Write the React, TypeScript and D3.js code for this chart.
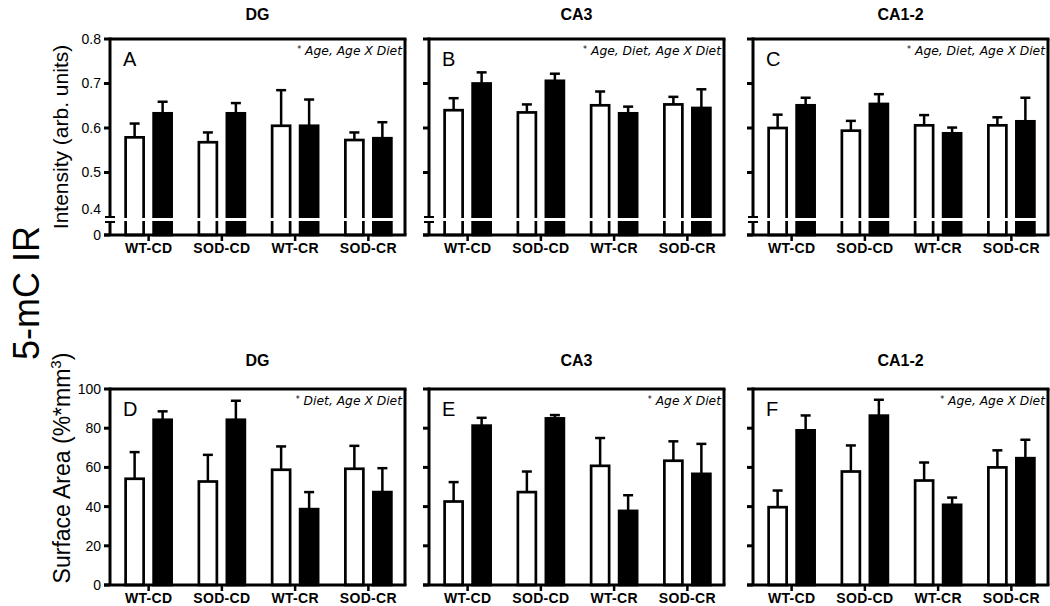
import React from "react";
import * as d3 from "d3";

// ---------- data ----------
const categories = ["WT-CD", "SOD-CD", "WT-CR", "SOD-CR"];
const regions = ["DG", "CA3", "CA1-2"];
const intensityLetters = ["A", "B", "C"];
const areaLetters = ["D", "E", "F"];
const intensityNotes = ["Age, Age X Diet", "Age, Diet, Age X Diet", "Age, Diet, Age X Diet"];
const areaNotes = ["Diet, Age X Diet", "Age X Diet", "Age, Age X Diet"];

const intensityTickValues = [0.5, 0.6, 0.7, 0.8];
const intensityTickLabels = ["0.5", "0.6", "0.7", "0.8"];
const areaTickValues = [0, 20, 40, 60, 80, 100];

// Intensity (arb. units) – open bars / filled bars, mean and SEM
const dgIntensityOpen = [0.579, 0.568, 0.605, 0.573];
const dgIntensityOpenSem = [0.031, 0.022, 0.08, 0.017];
const dgIntensityFilled = [0.633, 0.633, 0.605, 0.577];
const dgIntensityFilledSem = [0.026, 0.023, 0.059, 0.036];

const ca3IntensityOpen = [0.64, 0.635, 0.651, 0.653];
const ca3IntensityOpenSem = [0.027, 0.018, 0.031, 0.017];
const ca3IntensityFilled = [0.7, 0.706, 0.633, 0.645];
const ca3IntensityFilledSem = [0.025, 0.016, 0.015, 0.042];

const ca12IntensityOpen = [0.6, 0.594, 0.606, 0.606];
const ca12IntensityOpenSem = [0.03, 0.022, 0.023, 0.018];
const ca12IntensityFilled = [0.651, 0.654, 0.588, 0.615];
const ca12IntensityFilledSem = [0.017, 0.022, 0.013, 0.053];

// Surface Area (%*mm3)
const dgAreaOpen = [54.2, 52.8, 58.8, 59.3];
const dgAreaOpenSem = [13.6, 13.6, 11.9, 11.7];
const dgAreaFilled = [84.3, 84.3, 38.7, 47.4];
const dgAreaFilledSem = [4.3, 9.7, 8.7, 12.2];

const ca3AreaOpen = [42.6, 47.4, 60.8, 63.4];
const ca3AreaOpenSem = [9.9, 10.5, 14.2, 9.9];
const ca3AreaFilled = [81.3, 85.0, 37.8, 56.7];
const ca3AreaFilledSem = [4.0, 1.7, 8.0, 15.3];

const ca12AreaOpen = [39.7, 57.9, 53.3, 60.0];
const ca12AreaOpenSem = [8.5, 13.3, 9.2, 8.7];
const ca12AreaFilled = [78.9, 86.4, 40.9, 64.7];
const ca12AreaFilledSem = [7.6, 8.1, 3.7, 9.4];

// ---------- layout ----------
const W = 1050;
const H = 606;
const FONT = "'Liberation Sans', Arial, Helvetica, sans-serif";
const panelLefts = [110, 429, 753];
const panelWidth = 295;
const SW = 3; // axis stroke

const intensityOpenAll = [dgIntensityOpen, ca3IntensityOpen, ca12IntensityOpen];
const intensityOpenSemAll = [dgIntensityOpenSem, ca3IntensityOpenSem, ca12IntensityOpenSem];
const intensityFilledAll = [dgIntensityFilled, ca3IntensityFilled, ca12IntensityFilled];
const intensityFilledSemAll = [dgIntensityFilledSem, ca3IntensityFilledSem, ca12IntensityFilledSem];
const areaOpenAll = [dgAreaOpen, ca3AreaOpen, ca12AreaOpen];
const areaOpenSemAll = [dgAreaOpenSem, ca3AreaOpenSem, ca12AreaOpenSem];
const areaFilledAll = [dgAreaFilled, ca3AreaFilled, ca12AreaFilled];
const areaFilledSemAll = [dgAreaFilledSem, ca3AreaFilledSem, ca12AreaFilledSem];

type PanelProps = {
  left: number;
  top: number;
  bottom: number;
  y: d3.ScaleLinear<number, number>;
  broken: boolean;
  showLabels: boolean;
  tickValues: number[];
  tickLabels: string[];
  letter: string;
  note: string;
  title: string;
  titleY: number;
  open: number[];
  openSem: number[];
  filled: number[];
  filledSem: number[];
};

function Panel(p: PanelProps) {
  const right = p.left + panelWidth;
  const x = d3.scaleBand<string>().domain(categories).range([p.left + 2, right]);
  const barW = 18;
  const off = 14;
  const capW = 10;
  const breakY1 = p.broken ? p.y(0.4) : 0;
  const breakY2 = breakY1 + 5;

  const bars: React.ReactNode[] = [];
  categories.forEach((c, i) => {
    const cx = x(c)! + x.bandwidth() / 2;
    const series = [
      { v: p.open[i], s: p.openSem[i], dx: -off, fill: "#fff" },
      { v: p.filled[i], s: p.filledSem[i], dx: off, fill: "#000" },
    ];
    series.forEach((d, j) => {
      const bx = cx + d.dx;
      const yTop = p.y(d.v);
      const yErr = p.y(d.v + d.s);
      bars.push(
        <g key={c + j}>
          <line x1={bx} x2={bx} y1={yTop} y2={yErr} stroke="#000" strokeWidth={2.5} />
          <line x1={bx - capW / 2} x2={bx + capW / 2} y1={yErr} y2={yErr} stroke="#000" strokeWidth={2.5} />
          <rect
            x={bx - barW / 2}
            y={yTop}
            width={barW}
            height={p.bottom - yTop}
            fill={d.fill}
            stroke="#000"
            strokeWidth={2.7}
          />
        </g>
      );
    });
  });

  return (
    <g>
      <text
        x={(p.left + right) / 2}
        y={p.titleY}
        textAnchor="middle"
        fontFamily={FONT}
        fontWeight="bold"
        fontSize={16}
      >
        {p.title}
      </text>
      {bars}
      {p.broken && (
        <rect x={p.left - 8} y={breakY1 + 1} width={right - p.left + 6} height={3} fill="#fff" />
      )}
      {/* left axis */}
      {p.broken ? (
        <g>
          <line x1={p.left} x2={p.left} y1={p.top - SW / 2} y2={breakY1} stroke="#000" strokeWidth={SW} />
          <line x1={p.left} x2={p.left} y1={breakY2} y2={p.bottom} stroke="#000" strokeWidth={SW} />
          <line x1={p.left - 5} x2={p.left + 5} y1={breakY1} y2={breakY1} stroke="#000" strokeWidth={2} />
          <line x1={p.left - 5} x2={p.left + 5} y1={breakY2} y2={breakY2} stroke="#000" strokeWidth={2} />
          <line x1={p.left - 6} x2={p.left} y1={p.bottom} y2={p.bottom} stroke="#000" strokeWidth={SW} />
          {p.showLabels && (
            <g fontFamily={FONT} fontSize={14} textAnchor="end">
              <text x={p.left - 9} y={breakY1 - 8} dy="0.35em">0.4</text>
              <text x={p.left - 9} y={p.bottom} dy="0.35em">0</text>
            </g>
          )}
        </g>
      ) : (
        <line x1={p.left} x2={p.left} y1={p.top - SW / 2} y2={p.bottom} stroke="#000" strokeWidth={SW} />
      )}
      {p.tickValues.map((t, i) => (
        <g key={"t" + i}>
          <line x1={p.left - 6} x2={p.left} y1={p.y(t)} y2={p.y(t)} stroke="#000" strokeWidth={SW} />
          {p.showLabels && (
            <text x={p.left - 9} y={p.y(t)} dy="0.35em" textAnchor="end" fontFamily={FONT} fontSize={14}>
              {p.tickLabels[i]}
            </text>
          )}
        </g>
      ))}
      {/* frame */}
      <line x1={p.left - 6} x2={right + SW / 2} y1={p.bottom} y2={p.bottom} stroke="#000" strokeWidth={SW} />
      <line x1={p.left} x2={right + SW / 2} y1={p.top} y2={p.top} stroke="#000" strokeWidth={SW} />
      <line x1={right} x2={right} y1={p.top} y2={p.bottom} stroke="#000" strokeWidth={SW} />
      {/* x ticks + labels */}
      {categories.map((c) => {
        const cx = x(c)! + x.bandwidth() / 2;
        return (
          <g key={"x" + c}>
            <line x1={cx} x2={cx} y1={p.bottom} y2={p.bottom + 6} stroke="#000" strokeWidth={2.5} />
            <text
              x={cx}
              y={p.bottom + 17.5}
              textAnchor="middle"
              fontFamily={FONT}
              fontWeight="bold"
              fontSize={14}
              letterSpacing={0.3}
            >
              {c}
            </text>
          </g>
        );
      })}
      <text x={p.left + 13} y={p.top + 27} fontFamily={FONT} fontSize={20}>
        {p.letter}
      </text>
      <text
        x={right - 3}
        y={p.top + 16}
        textAnchor="end"
        fontFamily="'DejaVu Sans', Verdana, sans-serif"
        fontStyle="italic"
        fontSize={12.3}
      >
        <tspan fontSize={8} dy={-3}>*</tspan>
        <tspan dy={3}> {p.note}</tspan>
      </text>
    </g>
  );
}

export default function App() {
  const topTop = 39;
  const topBottom = 235;
  const yInt = d3.scaleLinear().domain([0.4, 0.8]).range([217, topTop]);
  const botTop = 389;
  const botBottom = 585;
  const yArea = d3.scaleLinear().domain([0, 100]).range([botBottom, botTop]);

  return (
    <svg
      width={W}
      height={H}
      viewBox={`0 0 ${W} ${H}`}
      style={{ position: "absolute", left: 0, top: 0, background: "#fff" }}
    >
      <rect width={W} height={H} fill="#fff" />
      <text
        transform="translate(39,293) rotate(-90)"
        textAnchor="middle"
        fontFamily={FONT}
        fontSize={36}
      >
        5-mC IR
      </text>
      <text
        transform="translate(68,137) rotate(-90)"
        textAnchor="middle"
        fontFamily={FONT}
        fontSize={21}
      >
        Intensity (arb. units)
      </text>
      <text
        transform="translate(70,468) rotate(-90)"
        textAnchor="middle"
        fontFamily={FONT}
        fontSize={23}
      >
        Surface Area (%*mm<tspan fontSize={15} dy={-9}>3</tspan>
        <tspan dy={9}>)</tspan>
      </text>
      {regions.map((r, i) => (
        <Panel
          key={"i" + r}
          left={panelLefts[i]}
          top={topTop}
          bottom={topBottom}
          y={yInt}
          broken={true}
          showLabels={i === 0}
          tickValues={intensityTickValues}
          tickLabels={intensityTickLabels}
          letter={intensityLetters[i]}
          note={intensityNotes[i]}
          title={r}
          titleY={20}
          open={intensityOpenAll[i]}
          openSem={intensityOpenSemAll[i]}
          filled={intensityFilledAll[i]}
          filledSem={intensityFilledSemAll[i]}
        />
      ))}
      {regions.map((r, i) => (
        <Panel
          key={"a" + r}
          left={panelLefts[i]}
          top={botTop}
          bottom={botBottom}
          y={yArea}
          broken={false}
          showLabels={i === 0}
          tickValues={areaTickValues}
          tickLabels={areaTickValues.map(String)}
          letter={areaLetters[i]}
          note={areaNotes[i]}
          title={r}
          titleY={366}
          open={areaOpenAll[i]}
          openSem={areaOpenSemAll[i]}
          filled={areaFilledAll[i]}
          filledSem={areaFilledSemAll[i]}
        />
      ))}
    </svg>
  );
}
